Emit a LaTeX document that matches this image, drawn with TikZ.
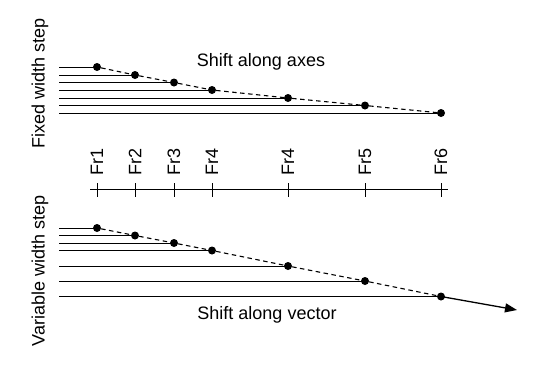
\documentclass[tikz,border=0pt]{standalone}
\usepackage{fontspec}
\setmainfont{Liberation Sans}
\usetikzlibrary{arrows.meta}
\begin{document}
\begin{tikzpicture}[x=1pt,y=-1pt,
  dot/.style={circle,fill=black,inner sep=0pt,minimum size=8pt},
  lvl/.style={line width=0.9pt},
  link/.style={line width=1.1pt,dash pattern=on 4.5pt off 3.5pt},
  lbl/.style={font=\fontsize{18}{20}\selectfont,inner sep=0pt},
  tick/.style={line width=0.9pt}]
\useasboundingbox (0,0) rectangle (534,365);
% top: fixed width step
\foreach \n/\x/\y in {a1/97/67,a2/135/75,a3/174/82.5,a4/212/90,a5/288/98,a6/365/105.5,a7/441/113}{
  \node[dot] (\n) at (\x,\y) {};
  \coordinate (l\n) at (59,\y);
  \draw[lvl] (l\n) -- (\n.center);
}
\draw[link] (a1) -- (a2) -- (a3) -- (a4) -- (a5) -- (a6) -- (a7);
\node[lbl] (t1) at (261,62) {Shift along axes};
\node[lbl,rotate=90] (s1) at (40,83) {Fixed width step};
% axis
\coordinate (ax0) at (90,189.5);
\coordinate (ax1) at (448,189.5);
\draw[tick] (ax0) -- (ax1);
\foreach \n/\x/\t in {f1/97/Fr1,f2/135/Fr2,f3/174/Fr3,f4/212/Fr4,f5/288/Fr4,f6/365/Fr5,f7/441/Fr6}{
  \coordinate (\n u) at (\x,183);
  \coordinate (\n d) at (\x,197);
  \draw[tick] (\n u) -- (\n d);
  \node[lbl,rotate=90,anchor=east] (\n) at (\x,148) {\t};
}
% bottom: variable width step
\foreach \n/\x/\y in {b1/97/228,b2/135/235.5,b3/174/243,b4/212/250.5,b5/288/266,b6/365/281,b7/441/296.5}{
  \node[dot] (\n) at (\x,\y) {};
  \coordinate (l\n) at (59,\y);
  \draw[lvl] (l\n) -- (\n.center);
}
\draw[link] (b1) -- (b2) -- (b3) -- (b4) -- (b5) -- (b6) -- (b7);
\coordinate (tip) at (517,310);
\draw[line width=1.3pt,-{Triangle[length=12pt,width=9pt]}] (b7.center) -- (tip);
\node[lbl] (t2) at (267,315) {Shift along vector};
\node[lbl,rotate=90] (s2) at (40,271) {Variable width step};
\end{tikzpicture}
\end{document}
